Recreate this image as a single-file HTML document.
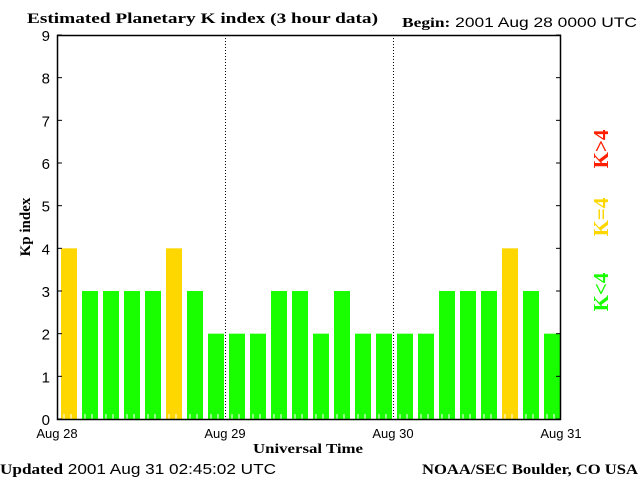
<!DOCTYPE html>
<html><head><meta charset="utf-8"><style>
body{margin:0;background:#fff;width:640px;height:480px;overflow:hidden}
svg text{font-family:"Liberation Sans",sans-serif}
.serif{font-family:"Liberation Serif",serif;font-weight:bold}
</style></head><body>
<svg id="chart" width="640" height="480" xmlns="http://www.w3.org/2000/svg">
<text class="serif" x="27" y="23" font-size="15" textLength="351" lengthAdjust="spacingAndGlyphs">Estimated Planetary K index (3 hour data)</text>
<text x="402" y="27" font-size="14" textLength="235" lengthAdjust="spacingAndGlyphs"><tspan style="font-family:'Liberation Serif',serif;font-weight:bold">Begin:</tspan>  2001 Aug 28 0000 UTC</text>
<g id="bars"></g>
<g id="axes"></g>
<text class="serif" x="30" y="227" font-size="15" transform="rotate(-90 30 227)" text-anchor="middle">Kp index</text>
<text class="serif" x="253" y="453" font-size="14" textLength="110" lengthAdjust="spacingAndGlyphs">Universal Time</text>
<text x="0" y="474" font-size="15" textLength="276" lengthAdjust="spacingAndGlyphs"><tspan style="font-family:'Liberation Serif',serif;font-weight:bold">Updated</tspan> 2001 Aug 31 02:45:02 UTC</text>
<text class="serif" x="422" y="474" font-size="15" textLength="216" lengthAdjust="spacingAndGlyphs">NOAA/SEC Boulder, CO USA</text>
<text class="serif" x="608" y="149" font-size="21" fill="#ff2000" text-anchor="middle" transform="rotate(-90 608 149)">K&gt;4</text>
<text class="serif" x="608" y="217" font-size="21" fill="#ffd700" text-anchor="middle" transform="rotate(-90 608 217)">K=4</text>
<text class="serif" x="608" y="292" font-size="21" fill="#19ff00" text-anchor="middle" transform="rotate(-90 608 292)">K&lt;4</text>
</svg>
<script>
const kpValues=[4,3,3,3,3,4,3,2, 2,2,3,3,2,3,2,2, 2,2,3,3,3,4,3,2];
const yTicks=[0,1,2,3,4,5,6,7,8,9];
const dayLabels=["Aug 28","Aug 29","Aug 30","Aug 31"];
const L=57,R=561,T=35,B=419,YMAX=9;
const NS="http://www.w3.org/2000/svg";
const slot=(R-L)/kpValues.length;
const y=v=>B-(v/YMAX)*(B-T);
const x=i=>L+i*slot;
function mk(tag,attrs,parent){const e=document.createElementNS(NS,tag);for(const k in attrs)e.setAttribute(k,attrs[k]);parent.appendChild(e);return e;}
const gb=document.getElementById('bars'),ga=document.getElementById('axes');
kpValues.forEach((v,i)=>{
 const c=v>4?'#ff2000':(v==4?'#ffd700':'#19ff00');
 const r=mk('rect',{x:x(i)+4,y:y(v),width:slot-5,height:B-y(v),fill:c},gb);
 
 
});
for(let h=1;h<kpValues.length*3;h++){
 const xx=L+h*slot/3;
 mk('line',{x1:xx,x2:xx,y1:B-5,y2:B,stroke:'#fff','stroke-width':1},gb);
}
for(let d=1;d<dayLabels.length-1;d++){
 const xx=L+d*(R-L)/(dayLabels.length-1)+0.5;
 const l=mk('line',{x1:xx,x2:xx,y1:T,y2:B,stroke:'#000','stroke-dasharray':'1,2'},ga);
 
 
}
mk('rect',{x:L+0.5,y:T+0.5,width:R-L-1,height:B-T,fill:'none',stroke:'#000','stroke-width':1.5},ga);
yTicks.forEach(t=>{
 const yy=y(t);
 mk('line',{x1:L,x2:L+5,y1:yy,y2:yy,stroke:'#000'},ga);
 mk('line',{x1:R-5,x2:R,y1:yy,y2:yy,stroke:'#000'},ga);
 const tx=mk('text',{x:50,y:yy+6,'font-size':15,'text-anchor':'end'},ga);
 tx.textContent=t;
 
 
});
dayLabels.forEach((d,i)=>{
 const xx=L+i*(R-L)/(dayLabels.length-1);
 const tx=mk('text',{x:xx,y:438,'font-size':13,'text-anchor':'middle'},ga);
 tx.textContent=d;
 
 
});
</script>
</body></html>
